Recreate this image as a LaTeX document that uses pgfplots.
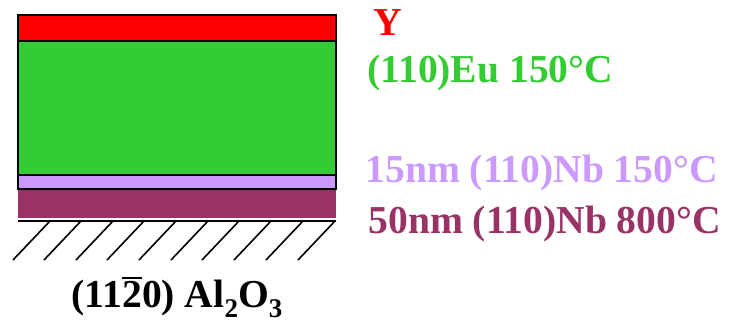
\documentclass[border=0pt]{standalone}
\usepackage{pgfplots}
\pgfplotsset{compat=1.18}
\usepackage{fontspec}
\setmainfont{Liberation Serif}
\definecolor{cred}{HTML}{FF0000}
\definecolor{cgreen}{HTML}{33CC33}
\definecolor{clav}{HTML}{CC99FF}
\definecolor{cmar}{HTML}{993366}
\newcommand\bartwo{\leavevmode\rlap{\rule[0.70em]{0.5em}{0.06em}}2}
\newcommand\sub[1]{\raisebox{-5pt}{\fontsize{13.5}{14}\selectfont #1}}
\tikzset{lbl/.style={inner sep=0pt, font=\fontsize{19.8}{22}\selectfont\bfseries}}
\begin{document}
\begin{tikzpicture}
\begin{axis}[
  width=365pt, height=161.5pt, scale only axis,
  xmin=0, xmax=730, ymin=0, ymax=323, y dir=reverse,
  axis lines=none, ticks=none, clip=false,
]
\addplot[draw=none] coordinates {(0,0) (730,323)};
% layers
\addplot[fill=cmar, draw=none] coordinates {(18,189) (336,189) (336,218) (18,218)} -- cycle;
\addplot[fill=clav, draw=black, line width=1pt] coordinates {(18,175) (336,175) (336,189) (18,189)} -- cycle;
\addplot[fill=cgreen, draw=black, line width=1pt] coordinates {(18,41) (336,41) (336,175) (18,175)} -- cycle;
\addplot[fill=cred, draw=black, line width=1pt] coordinates {(18,15) (336,15) (336,41) (18,41)} -- cycle;
% ground line
\addplot[black, line width=1.2pt] coordinates {(18,221) (336,221)};
% hatches
\addplot[black, line width=0.8pt] coordinates {(13,260) (50,221)};
\addplot[black, line width=0.8pt] coordinates {(44,260) (81,221)};
\addplot[black, line width=0.8pt] coordinates {(76,260) (113,221)};
\addplot[black, line width=0.8pt] coordinates {(107,260) (144,221)};
\addplot[black, line width=0.8pt] coordinates {(139,260) (176,221)};
\addplot[black, line width=0.8pt] coordinates {(171,260) (208,221)};
\addplot[black, line width=0.8pt] coordinates {(202,260) (239,221)};
\addplot[black, line width=0.8pt] coordinates {(234,260) (271,221)};
\addplot[black, line width=0.8pt] coordinates {(266,260) (303,221)};
\addplot[black, line width=0.8pt] coordinates {(298,260) (335,221)};
% labels
\node[lbl, anchor=base west, text=cred] at (axis cs:373,35) {Y};
\node[lbl, anchor=base west, text=cgreen] at (axis cs:367,82) {(110)Eu 150°C};
\node[lbl, anchor=base west, text=clav] at (axis cs:365,182) {15nm (110)Nb 150°C};
\node[lbl, anchor=base west, text=cmar] at (axis cs:368,233) {50nm (110)Nb 800°C};
\node[lbl, anchor=base, text=black] at (axis cs:177,307) {(11\bartwo0) Al\sub{2}O\sub{3}};
\end{axis}
\end{tikzpicture}
\end{document}
